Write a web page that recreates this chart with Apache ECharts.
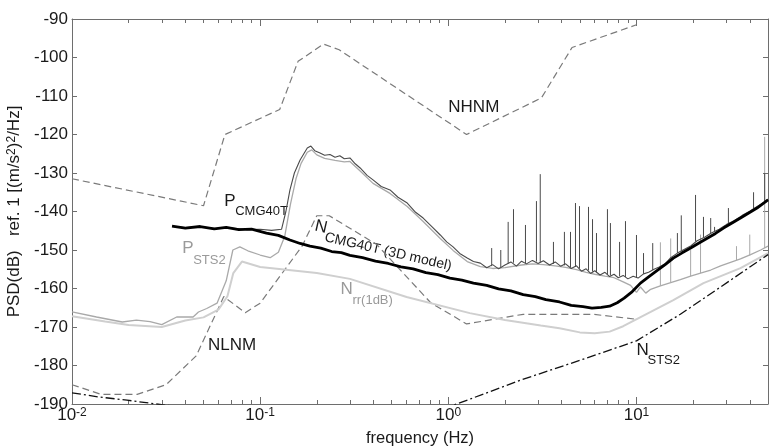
<!DOCTYPE html>
<html>
<head>
<meta charset="utf-8">
<title>PSD noise models</title>
<style>
    html, body { margin: 0; padding: 0; background: #fff; }
    #psd-chart { width: 771px; height: 448px; }
</style>
</head>
<body>
<div id="psd-chart"></div>
<script src="https://cdn.jsdelivr.net/npm/echarts@6.0.0/dist/echarts.min.js"></script>
<script>
// axis ranges
var freqRange = [0.01, 50];
var dbRange = [-190, -90];
var dbStep = 10;
var decadeTicks = [0.01, 0.1, 1, 10];
var minorTicks = [0.02, 0.03, 0.04, 0.05, 0.06, 0.07, 0.08, 0.09,
                  0.2, 0.3, 0.4, 0.5, 0.6, 0.7, 0.8, 0.9,
                  2, 3, 4, 5, 6, 7, 8, 9, 20, 30, 40];

// Peterson high / low noise models
var nhnmFreq = [0.01, 0.05, 0.065, 0.127, 0.159, 0.217, 0.263, 1.25, 3.125, 4.545, 10];
var nhnmDb = [-131.5, -138.5, -120.0, -113.5, -101.0, -96.5, -98.0, -120.0, -110.5, -97.4, -91.5];

var nlnmFreq = [0.01, 0.0143, 0.0222, 0.0316, 0.0457, 0.0641, 0.0833, 0.1, 0.167, 0.2, 0.233, 0.417, 0.806, 1.25, 2.5, 5.88, 10];
var nlnmDb = [-185.0, -187.5, -187.5, -185.0, -177.5, -162.1, -166.3, -163.8, -149.0, -141.1, -141.1, -148.6, -163.7, -169.2, -166.7, -166.7, -168.0];

// STS2 self noise
var nsts2Freq = [0.01, 0.014, 0.0196, 0.028, 0.05, 0.3, 0.7, 1.11, 2.42, 5.04, 10, 17.1, 28, 50];
var nsts2Db = [-187.1, -188.2, -189.0, -190.0, -191.5, -195.0, -193.0, -190.0, -183.8, -178.6, -173.6, -166.7, -159.6, -151.2];

// CMG40T self noise (3D model)
var ncmgFreq = [0.034, 0.04, 0.048, 0.057, 0.066, 0.077, 0.09, 0.108, 0.125, 0.144, 0.163, 0.184, 0.21, 0.24, 0.27, 0.3,
                0.35, 0.41, 0.48, 0.56, 0.65, 0.76, 0.88, 1.02, 1.18, 1.36, 1.6, 1.85, 2.15, 2.5, 2.9, 3.3, 3.9, 4.5,
                5.2, 5.8, 6.5, 7.2, 7.9, 8.6, 9.5, 10.5, 11.6, 12.9, 14.2, 15.7, 17.4, 19.4, 21.5, 23.9, 26.3, 29.0,
                32.2, 35.7, 39.5, 43.7, 50];
var ncmgDb = [-143.8, -144.3, -143.9, -144.5, -144.1, -144.7, -144.6, -145.6, -146.2, -147.4, -148.3, -149.0, -149.5, -150.4, -150.7, -151.4,
              -152.0, -152.9, -153.5, -154.4, -154.9, -155.9, -156.4, -157.3, -157.8, -158.6, -159.2, -160.1, -160.6, -161.6, -162.1, -162.9, -163.5, -164.4,
              -164.7, -165.1, -164.9, -164.6, -163.7, -162.5, -160.8, -158.6, -157.0, -155.3, -153.8, -152.1, -150.8, -149.5, -148.2, -146.9, -145.7, -144.3,
              -143.0, -141.7, -140.4, -139.1, -137.0];

// CMG40T measured PSD
var pcmgFreq = [0.034, 0.04, 0.048, 0.058, 0.07, 0.085, 0.1, 0.115, 0.13, 0.137, 0.144, 0.152, 0.163, 0.178, 0.186, 0.195,
                0.208, 0.22, 0.235, 0.25, 0.265, 0.28, 0.3, 0.32, 0.34, 0.37, 0.398, 0.44, 0.49, 0.54, 0.605, 0.67,
                0.735, 0.82, 0.906, 0.98, 1.06, 1.15, 1.26, 1.36, 1.48, 1.6, 1.72, 1.85, 2.0, 2.15, 2.3, 2.45,
                2.6, 2.8, 3.0, 3.2, 3.45, 3.7, 3.95, 4.2, 4.5, 4.8, 5.1, 5.4, 5.7, 6.0, 6.4, 6.8, 7.2, 7.6,
                8.0, 8.5, 9.0, 9.6, 10.2, 10.9, 11.6, 12.4, 13.2, 14.2, 15.2, 16.5, 18.0, 19.5, 21.0, 23.0,
                25.0, 27.5, 30.0, 33.0, 36.5, 40.0, 44.0, 48.0, 50.0];
var pcmgDb = [-143.9, -144.2, -144.0, -144.4, -144.3, -144.7, -144.6, -144.9, -144.6, -140.0, -134.4, -130.0, -126.6, -123.5, -123.0, -124.2,
              -124.8, -125.4, -125.2, -125.9, -125.5, -126.3, -126.1, -127.6, -128.7, -130.6, -131.8, -133.5, -134.4, -136.3, -137.8, -140.2,
              -141.7, -144.0, -146.1, -147.9, -149.2, -150.9, -152.1, -153.0, -153.4, -154.6, -153.8, -154.9, -153.9, -153.1, -154.2, -152.9,
              -153.6, -152.7, -153.5, -152.8, -153.9, -153.1, -154.2, -153.6, -154.8, -154.1, -155.5, -154.9, -156.1, -155.4, -156.5, -155.8, -156.9, -156.3,
              -157.2, -156.6, -157.5, -156.8, -157.3, -156.2, -155.8, -155.0, -154.4, -153.6, -152.0, -150.8, -149.8, -148.9, -147.6, -146.7,
              -145.6, -144.6, -143.4, -142.4, -141.0, -139.9, -138.6, -137.5, -136.8];

var pcmgSpikeFreq = [1.7, 1.9, 2.08, 2.22, 2.57, 2.94, 3.08, 3.62, 4.14, 4.46, 4.74, 4.98, 5.56, 5.84, 6.13, 7.01, 7.27, 8.13,
                     8.74, 10.0, 10.9, 12.2, 16.5, 17.3, 20.6, 22.7, 24.8, 26.0, 30.8, 41.9, 48.0];
var pcmgSpikeBase = [-154.2, -154.5, -153.5, -153.3, -153.4, -153.0, -153.2, -153.6, -154.0, -154.5, -154.4, -154.8, -155.3, -155.6, -155.8, -156.4, -156.6, -156.8,
                     -157.0, -157.2, -156.2, -155.2, -150.8, -150.3, -147.8, -146.8, -145.8, -145.2, -143.2, -139.3, -137.5];
var pcmgSpikeTop = [-149.5, -150.0, -142.7, -139.4, -143.5, -137.3, -130.3, -147.9, -145.3, -145.3, -137.8, -138.6, -138.8, -142.0, -145.6, -139.4, -143.0, -147.9,
                    -142.5, -146.1, -150.8, -148.2, -145.6, -141.0, -135.7, -141.4, -141.7, -144.0, -139.1, -135.0, -130.0];

// STS2 measured PSD
var psts2Freq = [0.01, 0.0135, 0.0185, 0.022, 0.026, 0.03, 0.036, 0.044, 0.047, 0.052, 0.059, 0.066, 0.0716, 0.078, 0.086, 0.1,
                 0.113, 0.125, 0.135, 0.145, 0.155, 0.165, 0.178, 0.188, 0.2, 0.22, 0.25, 0.28, 0.3, 0.34, 0.398, 0.49,
                 0.605, 0.735, 0.906, 1.06, 1.26, 1.48, 1.72, 2.0, 2.45, 2.8, 3.2, 3.7, 4.2, 4.8, 5.4, 6.0,
                 6.8, 7.6, 8.5, 9.3, 10.0, 10.5, 11.2, 11.9, 12.6, 13.4, 15.2, 17.1, 19.4, 21.9, 24.8, 28.0,
                 31.6, 35.7, 40.4, 45.7, 50.0];
var psts2Db = [-166.1, -167.4, -168.7, -168.2, -168.6, -169.4, -167.4, -167.4, -166.1, -165.2, -163.8, -158.0, -150.0, -149.2, -150.2, -151.3,
               -152.0, -150.6, -146.5, -138.0, -131.5, -127.5, -124.6, -124.0, -125.3, -126.2, -126.7, -127.1, -127.0, -129.5, -132.7, -135.3,
               -138.7, -142.6, -147.0, -150.1, -153.0, -154.3, -154.8, -154.6, -153.9, -153.6, -153.8, -154.1, -154.5, -155.1, -155.8, -156.3,
               -156.8, -157.2, -158.3, -159.2, -161.0, -159.6, -161.2, -160.2, -159.8, -159.3, -158.5, -157.7, -156.8, -156.0, -155.2, -154.1,
               -153.2, -152.3, -151.2, -150.0, -149.0];

var psts2SpikeFreq = [13.4, 15.2, 19.4, 21.9, 34.0, 40.0, 48.0];
var psts2SpikeBase = [-159.3, -158.5, -156.8, -156.0, -152.6, -151.4, -149.5];
var psts2SpikeTop = [-148.0, -147.0, -150.0, -146.0, -149.0, -146.0, -120.6];

// N_rr (1 dB)
var nrrFreq = [0.01, 0.015, 0.02, 0.03, 0.04, 0.05, 0.06, 0.067, 0.072, 0.08, 0.1, 0.13, 0.2, 0.3, 0.6, 1.3,
               2.0, 3.1, 3.9, 5.0, 6.0, 7.2, 8.5, 11.9, 15.7, 22.7, 35.7, 50];
var nrrDb = [-167.2, -168.6, -169.5, -170.0, -168.3, -167.5, -165.5, -162.0, -156.0, -153.0, -154.4, -155.0, -156.0, -157.5, -162.2, -166.4,
             -168.2, -169.6, -170.3, -171.4, -171.6, -171.2, -169.8, -166.1, -163.0, -158.6, -154.7, -150.8];

var FONT = '"Liberation Sans", Arial, Helvetica, sans-serif';
var AXIS_GRAY = '#6e6e6e';

var psdChart = {
    init: function () {
        this.chart = echarts.init(document.getElementById('psd-chart'), null, { renderer: 'canvas' });
        this.chart.setOption(this.baseOption());
        this.chart.setOption({ graphic: this.annotations() });
    },
    pairs: function (xs, ys) {
        var out = [];
        for (var i = 0; i < xs.length; i++) out.push([xs[i], ys[i]]);
        return out;
    },
    spikes: function (fs, base, top) {
        var out = [];
        for (var i = 0; i < fs.length; i++) {
            out.push([fs[i], base[i]], [fs[i], top[i]], [fs[i], '-']);
        }
        return out;
    },
    lineSeries: function (name, data, style, z) {
        return {
            name: name,
            type: 'line',
            data: data,
            xAxisIndex: 0,
            yAxisIndex: 0,
            showSymbol: false,
            symbol: 'none',
            connectNulls: false,
            silent: true,
            z: z || 2,
            lineStyle: style
        };
    },
    xAxis: function (gridIndex, position, ticks, len, labels) {
        return {
            type: 'log',
            logBase: 10,
            gridIndex: gridIndex,
            position: position,
            min: freqRange[0],
            max: freqRange[1],
            axisLine: { show: gridIndex === 0, lineStyle: { color: AXIS_GRAY, width: 1 } },
            axisTick: { show: true, inside: true, length: len, customValues: ticks,
                        lineStyle: { color: AXIS_GRAY, width: 1 } },
            splitLine: { show: false },
            axisLabel: labels ? {
                show: true,
                customValues: decadeTicks,
                margin: 3,
                color: '#1a1a1a',
                formatter: function (v) {
                    var e = Math.round(Math.log(v) / Math.LN10);
                    if (Math.abs(Math.pow(10, e) - v) / v > 1e-6) return '';
                    return '{b|10}{s|' + e + '}';
                },
                rich: {
                    b: { fontSize: 17, fontFamily: FONT, color: '#1a1a1a' },
                    s: { fontSize: 12, fontFamily: FONT, color: '#1a1a1a', verticalAlign: 'top' }
                }
            } : { show: false },
            name: labels ? 'frequency (Hz)' : '',
            nameLocation: 'middle',
            nameGap: 26,
            nameTextStyle: { fontSize: 16.5, fontFamily: FONT, color: '#1a1a1a' }
        };
    },
    yAxis: function (gridIndex, position, labels) {
        return {
            type: 'value',
            gridIndex: gridIndex,
            position: position,
            min: dbRange[0],
            max: dbRange[1],
            interval: dbStep,
            show: gridIndex === 0,
            axisLine: { show: true, lineStyle: { color: AXIS_GRAY, width: 1 } },
            axisTick: { show: true, inside: true, length: 5, lineStyle: { color: AXIS_GRAY, width: 1 } },
            splitLine: { show: false },
            axisLabel: labels ? { show: true, fontSize: 17, fontFamily: FONT, color: '#1a1a1a', margin: 4 } : { show: false },
            name: labels ? 'PSD(dB)   ref. 1 [(m/s{sup|2}){sup|2}/Hz]' : '',
            nameLocation: 'middle',
            nameGap: 39,
            nameTextStyle: {
                fontSize: 17, fontFamily: FONT, color: '#1a1a1a',
                rich: { sup: { fontSize: 12, fontFamily: FONT, color: '#1a1a1a', verticalAlign: 'top' } }
            }
        };
    },
    baseOption: function () {
        var gridBox = { left: 72, right: 3, top: 19, bottom: 44, outerBoundsMode: 'none', containLabel: false };
        var dashGray = { color: '#7a7a7a', width: 1.2, type: [7, 4] };
        return {
            animation: false,
            backgroundColor: '#ffffff',
            textStyle: { fontFamily: FONT },
            grid: [gridBox, echarts.util.extend({}, gridBox)],
            xAxis: [
                this.xAxis(0, 'bottom', decadeTicks, 7, true),
                this.xAxis(0, 'top', decadeTicks, 7, false),
                this.xAxis(1, 'bottom', minorTicks, 4, false),
                this.xAxis(1, 'top', minorTicks, 4, false)
            ],
            yAxis: [
                this.yAxis(0, 'left', true),
                this.yAxis(0, 'right', false),
                this.yAxis(1, 'left', false)
            ],
            series: [
                this.lineSeries('NHNM', this.pairs(nhnmFreq, nhnmDb), dashGray, 2),
                this.lineSeries('NLNM', this.pairs(nlnmFreq, nlnmDb), dashGray, 2),
                this.lineSeries('Nrr', this.pairs(nrrFreq, nrrDb), { color: '#cfcfcf', width: 2 }, 3),
                this.lineSeries('PSTS2', this.pairs(psts2Freq, psts2Db), { color: '#a9a9a9', width: 1.3 }, 4),
                this.lineSeries('PSTS2 spikes', this.spikes(psts2SpikeFreq, psts2SpikeBase, psts2SpikeTop), { color: '#a9a9a9', width: 1 }, 4),
                this.lineSeries('PCMG40T', this.pairs(pcmgFreq, pcmgDb), { color: '#4a4a4a', width: 1.1 }, 5),
                this.lineSeries('PCMG40T spikes', this.spikes(pcmgSpikeFreq, pcmgSpikeBase, pcmgSpikeTop), { color: '#4a4a4a', width: 1 }, 5),
                this.lineSeries('NSTS2', this.pairs(nsts2Freq, nsts2Db), { color: '#111111', width: 1.3, type: [9, 3, 2, 3] }, 6),
                this.lineSeries('NCMG40T', this.pairs(ncmgFreq, ncmgDb), { color: '#000000', width: 2.8 }, 7)
            ]
        };
    },
    labelList: function () {
        return [
            { main: 'NHNM', f: 1.0, db: -112.9, color: '#1a1a1a' },
            { main: 'NLNM', f: 0.0528, db: -174.7, color: '#1a1a1a' },
            { main: 'P', sub: 'CMG40T', f: 0.0644, db: -137.3, dx: 11, dy: 10, color: '#1a1a1a' },
            { main: 'P', sub: 'STS2', f: 0.0385, db: -149.6, dx: 11, dy: 12, color: '#9a9a9a' },
            { main: 'N', sub: 'CMG40T (3D model)', f: 0.196, db: -143.7, dx: 12, dy: 9, rot: -13, subSize: 14, color: '#1a1a1a' },
            { main: 'N', sub: 'rr(1dB)', f: 0.267, db: -160.1, dx: 12, dy: 12, color: '#9a9a9a' },
            { main: 'N', sub: 'STS2', f: 10, db: -176.0, dx: 11, dy: 10, color: '#1a1a1a' }
        ];
    },
    annotations: function () {
        var chart = this.chart;
        return this.labelList().map(function (lab) {
            var p = chart.convertToPixel({ xAxisIndex: 0, yAxisIndex: 0 }, [lab.f, lab.db]);
            var children = [{
                type: 'text', x: 0, y: 0, silent: true,
                style: { text: lab.main, fill: lab.color, fontSize: 17, fontFamily: FONT,
                         align: 'left', verticalAlign: 'middle', textAlign: 'left', textVerticalAlign: 'middle' }
            }];
            if (lab.sub) {
                children.push({
                    type: 'text', x: lab.dx, y: lab.dy, silent: true,
                    style: { text: lab.sub, fill: lab.color, fontSize: lab.subSize || 13, fontFamily: FONT,
                             align: 'left', verticalAlign: 'middle', textAlign: 'left', textVerticalAlign: 'middle' }
                });
            }
            return {
                type: 'group',
                x: p[0],
                y: p[1],
                rotation: (lab.rot || 0) * Math.PI / 180,
                z: 100,
                children: children
            };
        });
    }
};

psdChart.init();
</script>
</body>
</html>
